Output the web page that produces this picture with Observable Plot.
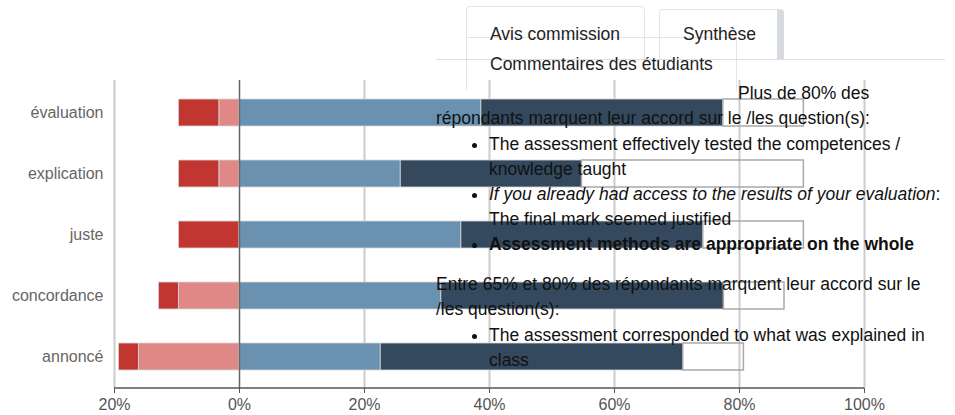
<!DOCTYPE html>
<html>
<head>
<meta charset="utf-8">
<script src="https://cdn.jsdelivr.net/npm/d3@7"></script>
<script src="https://cdn.jsdelivr.net/npm/@observablehq/plot@0.6"></script>
<style>
  html, body { margin: 0; padding: 0; background: #fff; }
  #wrap { position: relative; width: 955px; height: 415px; overflow: hidden;
          font-family: "Liberation Sans", Arial, Helvetica, sans-serif; }
  #chart { position: absolute; left: 0; top: 0; }
  .tab { position: absolute; box-sizing: border-box; border: 1px solid #e4e4e4;
         border-radius: 4px 4px 0 0; background: transparent; }
  .tabtxt { position: absolute; font-size: 17.5px; line-height: 20px; color: #222; white-space: nowrap; }
  #hline { position: absolute; left: 436px; top: 59px; width: 509px; height: 0;
           border-top: 1.5px solid #dedede; }
  #text { position: absolute; left: 436px; top: 80.5px; font-size: 17.5px; line-height: 25px;
          color: #111; white-space: nowrap; }
  #text p { margin: 0; }
  #text ul { margin: 1px 0 0 0; padding-left: 53px; }
  #text p.p2 { margin-top: 15px; }
</style>
</head>
<body>
<div id="wrap">
  <div id="chart"></div>
  <div class="tab" style="left:466px;top:6px;width:179px;height:54px;"></div>
  <div class="tab" style="left:659px;top:9px;width:125px;height:51px;border-right:7px solid #d6d9dd;border-bottom:none;"></div>
  <div class="tab" style="left:466px;top:37px;width:271px;height:53px;border-bottom:none;border-radius:0;"></div>
  <div id="hline"></div>
  <div class="tabtxt" style="left:490px;top:24px;">Avis commission</div>
  <div class="tabtxt" style="left:683px;top:24px;">Synthèse</div>
  <div class="tabtxt" style="left:490px;top:54px;">Commentaires des étudiants</div>
  <div id="text">
    <p style="text-indent:302px;">Plus de 80% des<br>répondants marquent leur accord sur le /les question(s):</p>
    <ul>
      <li>The assessment effectively tested the competences /<br>knowledge taught</li>
      <li><i>If you already had access to the results of your evaluation</i>:<br>The final mark seemed justified</li>
      <li><b>Assessment methods are appropriate on the whole</b></li>
    </ul>
    <p class="p2">Entre 65% et 80% des répondants marquent leur accord sur le<br>/les question(s):</p>
    <ul>
      <li>The assessment corresponded to what was explained in<br>class</li>
    </ul>
  </div>
</div>
<script>
const categories = ["évaluation", "explication", "juste", "concordance", "annoncé"];
const stronglyDisagree = [6.5, 6.5, 9.7, 3.2, 3.2];
const disagree = [3.2, 3.2, 0, 9.7, 16.1];
const agree = [38.7, 25.8, 35.5, 32.3, 22.6];
const stronglyAgree = [38.7, 29.0, 38.7, 45.2, 48.4];
const noAnswer = [12.9, 35.5, 16.1, 9.7, 9.7];
const xTicks = [-20, 0, 20, 40, 60, 80, 100];
const keys = ["sd", "d", "a", "sa"];
const colors = ["#c23632", "#e08886", "#6a92b0", "#34495e"];

const segs = categories.flatMap((c, i) => [
  {cat: c, key: "sd", x1: -(disagree[i] + stronglyDisagree[i]), x2: -disagree[i]},
  {cat: c, key: "d", x1: -disagree[i], x2: 0},
  {cat: c, key: "a", x1: 0, x2: agree[i]},
  {cat: c, key: "sa", x1: agree[i], x2: agree[i] + stronglyAgree[i]}
]).filter(d => d.x2 - d.x1 > 0);
const naSegs = categories.map((c, i) => ({
  cat: c, x1: agree[i] + stronglyAgree[i], x2: agree[i] + stronglyAgree[i] + noAnswer[i]
}));

const W = 955, H = 415, mL = 114, mR = 91, mT = 80, mB = 27;
const chart = Plot.plot({
  width: W, height: H,
  marginLeft: mL, marginRight: mR, marginTop: mT, marginBottom: mB,
  style: {fontFamily: "'Liberation Sans', Arial, Helvetica, sans-serif", fontSize: "16px", background: "transparent"},
  x: {domain: [-20, 100]},
  y: {domain: categories, paddingInner: 0.56, paddingOuter: 0.28},
  color: {domain: keys, range: colors},
  marks: [
    Plot.ruleX(xTicks.filter(d => d !== 0), {stroke: "#cccccc", strokeWidth: 2}),
    Plot.barX(segs, {x1: "x1", x2: "x2", y: "cat", fill: "key", stroke: "#d8d8d8", strokeWidth: 0.8}),
    Plot.barX(naSegs, {x1: "x1", x2: "x2", y: "cat", fill: "none", stroke: "#a9a9a9", strokeWidth: 1.5}),
    Plot.ruleX([0], {stroke: "#666", strokeWidth: 1.5}),
    Plot.axisX({ticks: xTicks, tickFormat: d => Math.abs(d) + "%", tickSize: 5, tickPadding: 5,
                fontSize: 16, color: "#555", label: null}),
    Plot.axisY({tickSize: 0, tickPadding: 11, fontSize: 16, color: "#666", label: null})
  ]
});
const xs = chart.scale("x");
const svg = d3.select(chart);
svg.append("line")
  .attr("x1", xs.apply(-20)).attr("x2", xs.apply(100))
  .attr("y1", H - mB).attr("y2", H - mB)
  .attr("stroke", "#555").attr("stroke-width", 1.5);
document.getElementById("chart").appendChild(chart);
</script>
</body>
</html>
